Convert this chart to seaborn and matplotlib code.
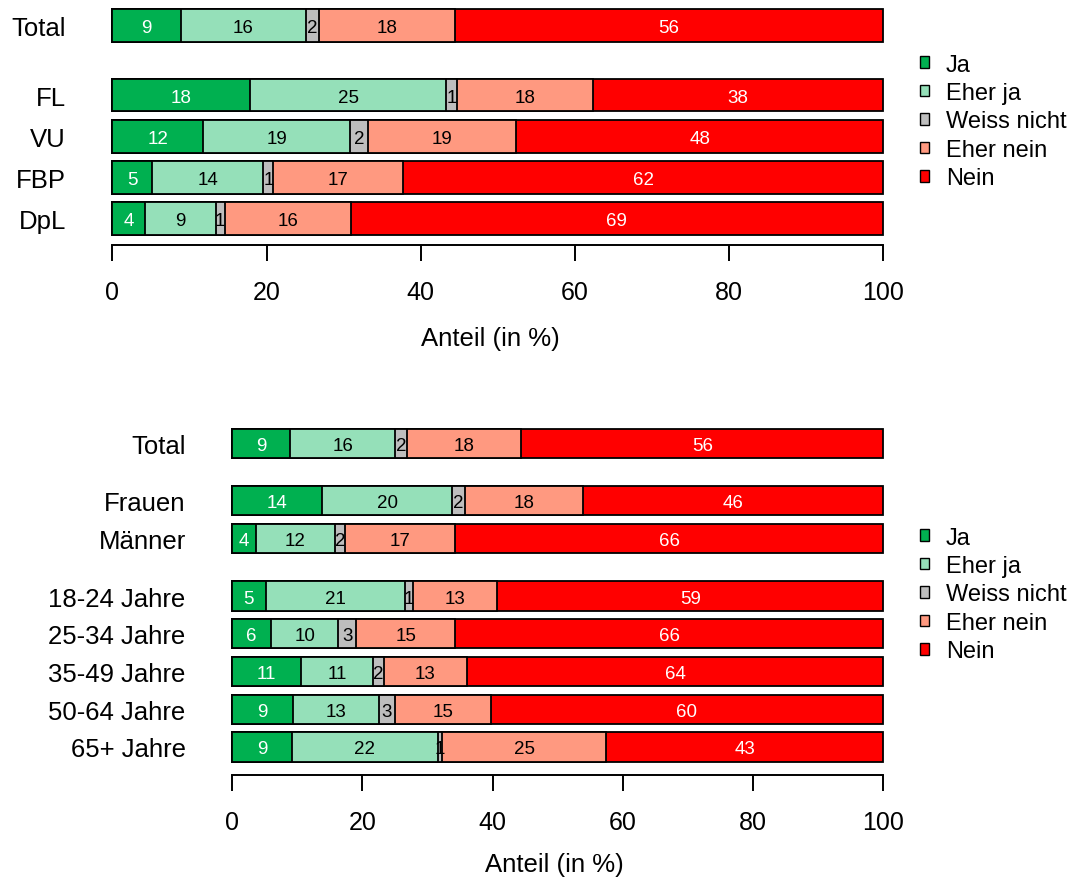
import numpy as np
import pandas as pd
import matplotlib
matplotlib.use("Agg")
import matplotlib.pyplot as plt
from matplotlib.patches import Patch
import seaborn as sns

# answer categories and colours
answers = ["Ja", "Eher ja", "Weiss nicht", "Eher nein", "Nein"]
answer_colors = ["#00B050", "#95E0B9", "#BEBEBE", "#FF9980", "#FF0000"]

# top panel: parties (shares in %)
top_groups = ["Total", "FL", "VU", "FBP", "DpL"]
top_ja = [8.9, 17.9, 11.8, 5.2, 4.3]
top_eher_ja = [16.2, 25.4, 19.0, 14.4, 9.1]
top_weiss = [1.7, 1.4, 2.4, 1.3, 1.2]
top_eher_nein = [17.6, 17.6, 19.2, 16.8, 16.3]
top_nein = [55.6, 37.7, 47.6, 62.3, 69.1]

# bottom panel: gender and age (shares in %)
bot_groups = ["Total", "Frauen", "Männer", "18-24 Jahre", "25-34 Jahre",
              "35-49 Jahre", "50-64 Jahre", "65+ Jahre"]
bot_ja = [8.9, 13.8, 3.7, 5.2, 6.0, 10.6, 9.4, 9.2]
bot_eher_ja = [16.2, 20.0, 12.1, 21.4, 10.3, 11.1, 13.1, 22.4]
bot_weiss = [1.7, 2.0, 1.6, 1.2, 2.8, 1.6, 2.6, 0.7]
bot_eher_nein = [17.6, 18.1, 16.9, 12.9, 15.2, 12.8, 14.6, 25.1]
bot_nein = [55.6, 46.1, 65.7, 59.3, 65.7, 63.9, 60.3, 42.6]

xticks = [0, 20, 40, 60, 80, 100]

sns.set_theme(style="white")
plt.rcParams["font.family"] = ["Liberation Sans", "DejaVu Sans"]
for k in ["text.color", "axes.labelcolor", "xtick.color", "ytick.color", "axes.edgecolor"]:
    plt.rcParams[k] = "black"

W, H = 1072, 879
fig = plt.figure(figsize=(W / 100, H / 100), dpi=100)


def px_axes(left, right, top, bottom):
    return fig.add_axes([left / W, 1 - bottom / H, (right - left) / W, (bottom - top) / H])


def draw_panel(ax, groups, ypos, series, bar_h, ylim, ypad, xlab_xy):
    series = np.array(series)
    cum = np.cumsum(series, axis=0)
    rows = []
    for k, ans in enumerate(answers):
        for g, y, c in zip(groups, ypos, cum[k]):
            rows.append({"group": g, "pos": y, "answer": ans, "cum": c})
    df = pd.DataFrame(rows)
    # draw cumulative bars from the back (Nein = 100) to the front (Ja)
    sns.barplot(data=df, x="cum", y="pos", hue="answer", hue_order=answers[::-1],
                palette=dict(zip(answers, answer_colors)), orient="y",
                native_scale=True, dodge=False, width=bar_h, saturation=1,
                edgecolor="black", linewidth=1.3, errorbar=None, legend=False, ax=ax)

    starts = cum - series
    for k, ans in enumerate(answers):
        txt_color = "white" if ans in ("Ja", "Nein") else "black"
        for y, s, v in zip(ypos, starts[k], series[k]):
            ax.text(s + v / 2, y, f"{v:.0f}", ha="center", va="center_baseline",
                    fontsize=13.5, color=txt_color)

    ax.set_xlim(-4, 104)
    ax.set_ylim(*ylim)
    for s in ["top", "right", "left"]:
        ax.spines[s].set_visible(False)
    ax.spines["bottom"].set_bounds(0, 100)
    ax.spines["bottom"].set_linewidth(1.4)
    ax.set_xticks(xticks)
    ax.tick_params(axis="x", bottom=True, length=11.5, width=1.4, pad=14, labelsize=18)
    ax.set_yticks(ypos, groups)
    ax.tick_params(axis="y", left=False, length=0, pad=ypad, labelsize=18.5)
    ax.set_ylabel("")
    ax.set_xlabel("Anteil (in %)", fontsize=18.5)
    ax.xaxis.set_label_coords(*xlab_xy)


# top panel
ax1 = px_axes(81.5, 914.1, 0, 245.7)
draw_panel(ax1, top_groups, [4.68, 3, 2, 1, 0],
           [top_ja, top_eher_ja, top_weiss, top_eher_nein, top_nein],
           0.8, (-0.636, 5.332), 11.1, (0.4906, -0.329))

# bottom panel
ax2 = px_axes(205.95, 909.4, 415.6, 775.7)
draw_panel(ax2, bot_groups, [8.05, 6.53, 5.53, 4, 3, 2, 1, 0],
           [bot_ja, bot_eher_ja, bot_weiss, bot_eher_nein, bot_nein],
           0.77, (-0.734, 8.806), 14.6, (0.496, -0.2135))

handles = [Patch(facecolor=c, edgecolor="black", linewidth=1.0) for c in answer_colors]
for yc in [122.5, 595.5]:
    fig.legend(handles, answers, loc="center left", bbox_to_anchor=(920 / W, 1 - yc / H),
               frameon=False, fontsize=17, handlelength=0.38, handleheight=0.38,
               handletextpad=0.72, labelspacing=0.27, borderpad=0, borderaxespad=0)

fig.savefig("out.png", dpi=100)
